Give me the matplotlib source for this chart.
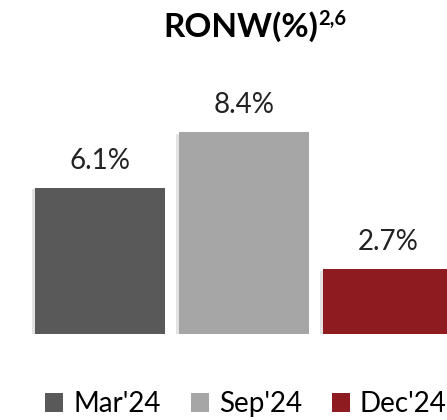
import matplotlib
matplotlib.use("Agg")
import matplotlib.pyplot as plt
import matplotlib.patheffects as pe
from matplotlib.patches import Patch

categories = ["Mar'24", "Sep'24", "Dec'24"]
values = [6.1, 8.4, 2.7]
labels = ["6.1%", "8.4%", "2.7%"]
colors = ["#595959", "#A6A6A6", "#8E1B1F"]
title = r"RONW(%)"
title_sup = "2,6"

plt.rcParams['font.family'] = ['Lato', 'DejaVu Sans']

fig = plt.figure(figsize=(4.47, 4.2), dpi=100)
W, H = 447, 420
ax = fig.add_axes([0, (H - 334) / H, 1, (334 - 100) / H])
x = list(range(len(categories)))
bars = ax.bar(x, values, width=130 / 144, color=colors)
for b in bars:
    b.set_path_effects([pe.SimplePatchShadow(offset=(-2, -1), shadow_rgbFace='#b0b0b0', alpha=0.35),
                        pe.Normal()])
ax.set_xlim(-100 / 144, (447 - 100) / 144)
ax.set_ylim(0, 234 / 24.0)
ax.axis('off')
for xi, v, lab in zip(x, values, labels):
    ax.annotate(lab, (xi, v), xytext=(0, 13.7), textcoords='offset points',
                ha='center', va='baseline', fontsize=20, color='#222222')

fig.text(241 / W, 1 - 37 / H, title, ha='center', va='baseline', fontsize=24,
         fontweight='bold', color='black')
fig.text(318 / W, 1 - 25 / H, title_sup, ha='left', va='baseline', fontsize=14.5,
         fontweight='bold', color='black')

handles = [Patch(facecolor=c, edgecolor='none') for c in colors]
fig.legend(handles, categories, loc='center', bbox_to_anchor=(246 / W, 1 - 404 / H),
           ncol=3, frameon=False, fontsize=20, handlelength=0.65, handleheight=0.65,
           handletextpad=0.36, columnspacing=1.08, borderpad=0, borderaxespad=0)

fig.savefig("out.png", dpi=100)
